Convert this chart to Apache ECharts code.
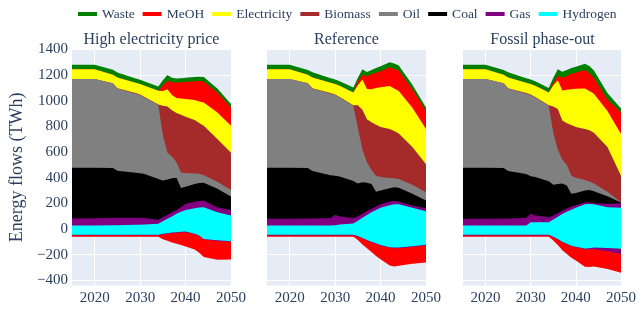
<!DOCTYPE html>
<html><head><meta charset="utf-8">
<script src="https://cdn.jsdelivr.net/npm/echarts@6/dist/echarts.min.js"></script>
<style>html,body{margin:0;padding:0;background:#fff}#c{width:639px;height:312px}</style>
</head><body><div id="c"></div>
<script>
const years = [2015, 2020, 2024, 2025, 2029, 2030, 2031, 2034, 2035, 2036, 2037, 2038, 2039, 2040, 2042, 2043, 2044, 2047, 2050];
const scenarios = ['High electricity price', 'Reference', 'Fossil phase-out'];
const legendNames = ['Waste', 'MeOH', 'Electricity', 'Biomass', 'Oil', 'Coal', 'Gas', 'Hydrogen'];
const yTickLabels = [-400, -200, 0, 200, 400, 600, 800, 1000, 1200, 1400];
const xTickLabels = [2020, 2030, 2040, 2050];

// High electricity price
const hi_hydrogen = [28,28,30,30,33,34,35,40,60,80,98,118,135,149,162,168,170,131,105];
const hi_gas = [54,56,58,58,55,53,50,32,32,32,32,31,37,47,50,50,52,37,44];
const hi_coal = [396,394,388,367,350,347,343,318,286,273,265,251,148,134,138,140,138,145,104];
const hi_oil = [692,692,661,640,617,610,597,576,352,210,170,120,120,107,82,72,60,55,52];
const hi_biomass = [0,0,0,3,5,5,5,4,230,360,360,385,450,439,418,396,385,334,290];
const hi_electricity = [76,76,65,83,80,81,87,108,115,135,120,117,128,138,155,169,182,207,210];
const hi_meoh = [0,0,0,0,0,0,0,0,45,65,100,120,127,134,147,160,163,155,143];
const hi_waste = [34,34,39,39,33,33,33,33,40,45,35,32,31,32,33,33,35,31,27];
const hi_hydrogen_use = [-44,-44,-44,-44,-44,-44,-44,-44,-38,-33,-28,-25,-22,-20,-38,-50,-77,-88,-95];
const hi_gas_use = [-5,-5,-5,-5,-5,-5,-5,-5,-5,-5,-5,-5,-5,-5,-5,-5,-5,-5,-5];
const hi_meoh_use = [-11,-11,-11,-11,-11,-11,-11,-11,-37,-54,-72,-85,-98,-111,-117,-130,-137,-147,-138];

// Reference
const ref_hydrogen = [27,27,27,27,27,30,35,42,65,88,110,130,148,165,185,192,192,165,139];
const ref_gas = [53,53,55,55,59,82,63,43,35,30,30,28,27,27,30,28,20,18,22];
const ref_coal = [398,398,394,370,334,303,312,290,255,247,220,192,115,108,103,105,110,92,61];
const ref_oil = [692,692,661,643,635,629,615,586,435,255,160,110,125,105,80,70,68,70,64];
const ref_biomass = [0,0,0,3,5,5,5,4,175,310,335,372,397,390,382,370,355,295,219];
const ref_electricity = [76,76,65,83,80,81,87,99,155,235,237,258,288,310,335,330,330,305,274];
const ref_meoh = [0,0,0,0,0,0,0,0,30,35,100,115,120,125,147,155,160,145,143];
const ref_waste = [34,34,38,41,36,36,35,39,30,45,33,35,35,38,38,40,40,35,26];
const ref_hydrogen_use = [-45,-45,-45,-45,-45,-45,-45,-45,-55,-70,-85,-100,-112,-125,-142,-145,-145,-135,-123];
const ref_gas_use = [-5,-5,-5,-5,-5,-5,-5,-5,-5,-5,-5,-5,-5,-5,-5,-5,-5,-5,-5];
const ref_meoh_use = [-10,-10,-10,-10,-10,-10,-10,-10,-25,-45,-60,-75,-93,-105,-138,-142,-137,-130,-134];

// Fossil phase-out
const fos_hydrogen = [27,27,27,27,27,53,53,53,75,96,116,135,150,165,192,195,192,170,165];
const fos_gas = [53,53,55,55,60,65,52,39,30,26,26,25,25,20,16,12,8,26,35];
const fos_coal = [398,398,394,370,341,294,300,280,240,228,213,180,99,95,92,98,95,59,6];
const fos_oil = [692,692,661,643,627,632,620,589,405,270,185,160,142,120,82,65,60,35,2];
const fos_biomass = [0,0,0,3,5,5,5,4,205,315,305,325,394,395,398,400,395,350,208];
const fos_electricity = [76,76,65,83,80,81,87,99,165,225,235,260,280,298,316,305,305,280,324];
const fos_meoh = [0,0,0,0,0,0,0,0,20,35,100,110,120,127,144,140,125,90,169];
const fos_waste = [34,34,38,41,36,36,35,36,40,51,46,45,45,45,48,55,55,50,31];
const fos_hydrogen_use = [-45,-45,-45,-45,-45,-45,-45,-45,-60,-78,-100,-115,-130,-138,-152,-150,-145,-148,-154];
const fos_gas_use = [-5,-5,-5,-5,-5,-5,-5,-5,-5,-5,-5,-5,-5,-5,-5,-8,-12,-25,-40];
const fos_meoh_use = [-10,-10,-10,-10,-10,-10,-10,-10,-25,-42,-60,-75,-90,-102,-138,-139,-135,-138,-148];

const colors = {Waste:'#008000', MeOH:'#ff0000', Electricity:'#ffff00', Biomass:'#a52a2a', Oil:'#808080', Coal:'#000000', Gas:'#800080', Hydrogen:'#00ffff'};

const panels = [
  {pos: [['Hydrogen',hi_hydrogen],['Gas',hi_gas],['Coal',hi_coal],['Oil',hi_oil],['Biomass',hi_biomass],['Electricity',hi_electricity],['MeOH',hi_meoh],['Waste',hi_waste]],
   neg: [['Hydrogen',hi_hydrogen_use],['Gas',hi_gas_use],['MeOH',hi_meoh_use]]},
  {pos: [['Hydrogen',ref_hydrogen],['Gas',ref_gas],['Coal',ref_coal],['Oil',ref_oil],['Biomass',ref_biomass],['Electricity',ref_electricity],['MeOH',ref_meoh],['Waste',ref_waste]],
   neg: [['Hydrogen',ref_hydrogen_use],['Gas',ref_gas_use],['MeOH',ref_meoh_use]]},
  {pos: [['Hydrogen',fos_hydrogen],['Gas',fos_gas],['Coal',fos_coal],['Oil',fos_oil],['Biomass',fos_biomass],['Electricity',fos_electricity],['MeOH',fos_meoh],['Waste',fos_waste]],
   neg: [['Hydrogen',fos_hydrogen_use],['Gas',fos_gas_use],['MeOH',fos_meoh_use]]}
];

const FONT = '"Liberation Serif", "Times New Roman", serif';
const TXT = '#2a3f5f';
const gridLefts = [72, 267, 463];
const gridW = 159;

// Build cumulative (stacked) layers and paint them from the outermost layer inwards.
const series = [];
panels.forEach((pn, p) => {
  const layers = (list) => {
    const run = years.map(() => 0);
    return list.map(([n, a]) => {
      const cum = a.map((v, i) => (run[i] += v));
      return [n, cum];
    });
  };
  const pos = layers(pn.pos).reverse();
  const neg = layers(pn.neg).reverse();
  pos.concat(neg).forEach(([name, cum]) => {
    const c = colors[name];
    series.push({
      type: 'line', name: name, xAxisIndex: p, yAxisIndex: p,
      data: years.map((y, i) => [y, cum[i]]),
      symbol: 'none', showSymbol: false,
      lineStyle: {width: 0, color: c}, itemStyle: {color: c},
      areaStyle: {color: c, opacity: 1, origin: 'auto'},
      emphasis: {disabled: true}, silent: true, animation: false
    });
  });
});

const grids = gridLefts.map(l => ({left: l, top: 49.435, width: gridW, height: 236, show: true, backgroundColor: '#E5ECF6', borderWidth: 0, containLabel: false}));

const xAxes = gridLefts.map((l, p) => ({
  type: 'value', gridIndex: p, min: 2015, max: 2050, interval: 5,
  axisLine: {show: false}, axisTick: {show: false},
  axisLabel: {margin: 5, color: TXT, fontFamily: FONT, fontSize: 15,
    formatter: v => xTickLabels.includes(Math.round(v)) ? String(Math.round(v)) : ''},
  splitLine: {show: true, lineStyle: {color: ['rgba(255,255,255,0)', '#ffffff'], width: 1}}
}));

const yAxes = gridLefts.map((l, p) => ({
  type: 'value', gridIndex: p, min: -440, max: 1400, interval: 40,
  name: p === 0 ? 'Energy flows (TWh)' : '', nameLocation: 'middle', nameGap: 46, nameRotate: 90,
  nameTextStyle: {color: TXT, fontFamily: FONT, fontSize: 18},
  axisLine: {show: false}, axisTick: {show: false},
  axisLabel: {show: p === 0, margin: 4, color: TXT, fontFamily: FONT, fontSize: 15,
    formatter: v => { const r = Math.round(v); return yTickLabels.includes(r) ? (r < 0 ? '\u2212' + (-r) : String(r)) : ''; }},
  splitLine: {show: true, lineStyle: {color: ['rgba(255,255,255,0)', '#ffffff', 'rgba(255,255,255,0)', 'rgba(255,255,255,0)', 'rgba(255,255,255,0)'], width: 1}}
}));

const titles = scenarios.map((s, p) => ({
  type: 'text', x: gridLefts[p] + gridW / 2, y: 40,
  style: {text: s, fill: TXT, font: '16px ' + FONT, align: 'center', verticalAlign: 'middle'}
}));

const chart = echarts.init(document.getElementById('c'), null, {renderer: 'canvas'});
chart.setOption({
  animation: false,
  backgroundColor: '#ffffff',
  legend: {
    data: legendNames, left: 78, top: 7, padding: 0, orient: 'horizontal',
    icon: 'rect', itemWidth: 19, itemHeight: 4, itemGap: 8,
    textStyle: {color: TXT, fontFamily: FONT, fontSize: 13.5},
    selectedMode: false
  },
  grid: grids, xAxis: xAxes, yAxis: yAxes,
  graphic: titles,
  series: series
});
</script></body></html>
